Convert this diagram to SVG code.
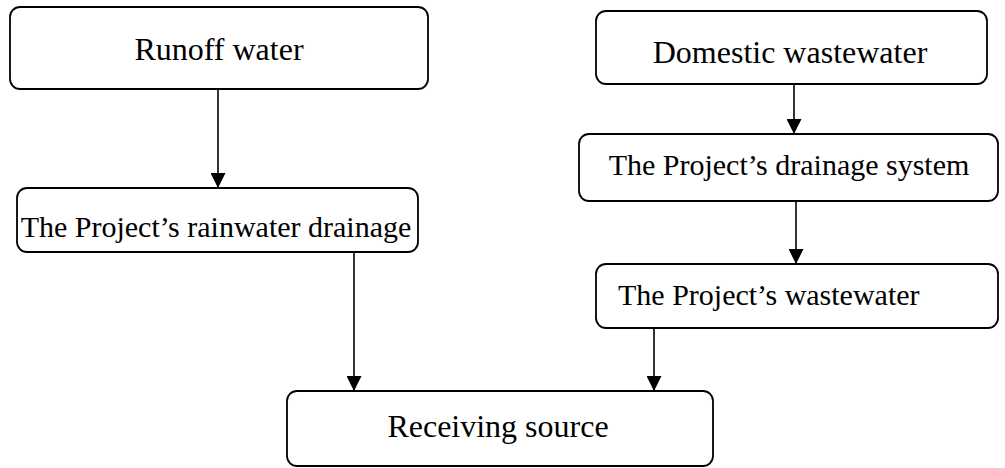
<svg xmlns="http://www.w3.org/2000/svg" width="1005" height="468" viewBox="0 0 1005 468">
<style>
.box{fill:#fff;stroke:#000;stroke-width:1.8}
.t{font-family:"Liberation Serif","Times New Roman",serif;fill:#000}
.c{stroke:#000;stroke-width:1.6;fill:none;marker-end:url(#ah)}
</style>
<defs>
<marker id="ah" markerUnits="userSpaceOnUse" markerWidth="15" markerHeight="15" viewBox="0 0 15 15" refX="15" refY="7.5" orient="auto">
<path d="M0,0 L15,7.5 L0,15 Z" fill="#000"/>
</marker>
</defs>
<rect width="1005" height="468" fill="#fff"/>
<g id="connectors">
<path class="c" d="M218,89 V188"/>
<path class="c" d="M794,84 V134"/>
<path class="c" d="M796,201 V264"/>
<path class="c" d="M354,252 V391"/>
<path class="c" d="M654,328 V391"/>
</g>
<g id="runoff">
<rect class="box" x="10" y="7" width="418" height="82" rx="10"/>
<text class="t" x="219" y="60" font-size="32" text-anchor="middle">Runoff water</text>
</g>
<g id="domestic">
<rect class="box" x="596" y="11" width="391" height="73" rx="10"/>
<text class="t" x="790" y="63" font-size="32" text-anchor="middle">Domestic wastewater</text>
</g>
<g id="rainwater">
<rect class="box" x="17" y="188" width="401" height="64" rx="10"/>
<text class="t" x="216" y="237" font-size="30" text-anchor="middle">The Project’s rainwater drainage</text>
</g>
<g id="drainage">
<rect class="box" x="579" y="134" width="419" height="67" rx="10"/>
<text class="t" x="789" y="175" font-size="30" text-anchor="middle">The Project’s drainage system</text>
</g>
<g id="wastewater">
<rect class="box" x="596" y="264" width="402" height="64" rx="10"/>
<text class="t" x="618" y="305" font-size="30">The Project’s wastewater</text>
</g>
<g id="receiving">
<rect class="box" x="287" y="391" width="426" height="75" rx="10"/>
<text class="t" x="498" y="437" font-size="32" text-anchor="middle">Receiving source</text>
</g>
</svg>
